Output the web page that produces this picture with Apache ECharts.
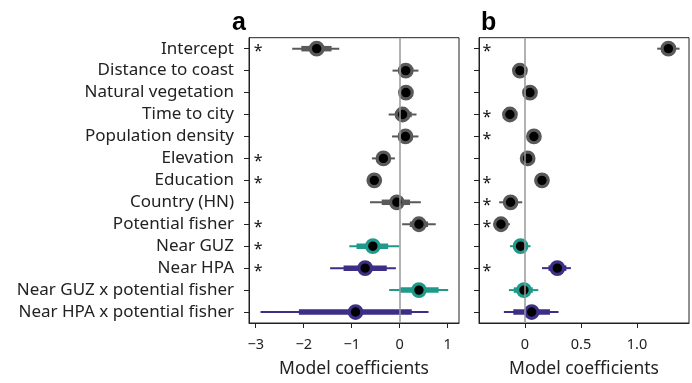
<!DOCTYPE html>
<html><head><meta charset="utf-8">
<script src="https://cdn.jsdelivr.net/npm/echarts@6/dist/echarts.min.js"></script>
<style>html,body{margin:0;padding:0;background:#fff}#c{width:692px;height:383px}</style>
</head><body><div id="c"></div>
<script>
const categories = ["Intercept","Distance to coast","Natural vegetation","Time to city","Population density","Elevation","Education","Country (HN)","Potential fisher","Near GUZ","Near HPA","Near GUZ x potential fisher","Near HPA x potential fisher"];
const groups = ["base","base","base","base","base","base","base","base","base","guz","hpa","guz","hpa"];

const estA  = [-1.73, 0.125, 0.13, 0.06, 0.12, -0.34, -0.53, -0.06, 0.40, -0.56, -0.72, 0.40, -0.92];
const lo95A = [-2.24, -0.15, 0.00, -0.23, -0.16, -0.58, -0.65, -0.62, 0.05, -1.05, -1.45, -0.22, -2.90];
const hi95A = [-1.26, 0.39, 0.27, 0.35, 0.39, -0.10, -0.41, 0.44, 0.75, -0.01, -0.08, 1.01, 0.60];
const lo50A = [-2.05, -0.03, 0.05, -0.10, -0.03, -0.45, -0.58, -0.375, 0.21, -0.90, -1.17, 0.00, -2.10];
const hi50A = [-1.42, 0.28, 0.22, 0.25, 0.27, -0.22, -0.47, 0.215, 0.59, -0.24, -0.27, 0.81, 0.25];
const sigA  = [1,0,0,0,0,1,1,0,1,1,1,0,0];

const estB  = [1.28, -0.045, 0.045, -0.134, 0.08, 0.024, 0.152, -0.128, -0.214, -0.039, 0.289, -0.009, 0.06];
const lo95B = [1.18, -0.10, 0.00, -0.17, 0.03, -0.02, 0.12, -0.23, -0.283, -0.134, 0.152, -0.143, -0.188];
const hi95B = [1.38, 0.01, 0.09, -0.09, 0.12, 0.06, 0.18, -0.024, -0.134, 0.05, 0.41, 0.119, 0.30];
const lo50B = [1.23, -0.07, 0.02, -0.15, 0.05, 0.00, 0.14, -0.18, -0.25, -0.09, 0.21, -0.10, -0.104];
const hi50B = [1.33, -0.02, 0.07, -0.11, 0.10, 0.04, 0.165, -0.07, -0.17, 0.01, 0.37, 0.07, 0.223];
const sigB  = [1,0,0,1,1,0,1,1,1,0,1,0,0];

const ticksA = [-3, -2, -1, 0, 1];
const ticksB = [0, 0.5, 1.0];
const rangeA = [-3.14, 1.235];
const rangeB = [-0.41, 1.464];
const starXA = -2.95;
const starXB = -0.34;
const zeroLine = 0;

const colors = {base: "#595959", guz: "#1f9a8a", hpa: "#3d2f86"};
const FONT = "Noto Sans";

function rows(est, lo95, hi95, lo50, hi50, sig, starX) {
  return est.map((e, i) => [i, e, lo95[i], hi95[i], lo50[i], hi50[i], sig[i], starX]);
}

function renderItem(params, api) {
  const i = api.value(0);
  const col = colors[groups[i]];
  const y = api.coord([0, i])[1];
  const p = api.coord([api.value(1), i]);
  const a95 = api.coord([api.value(2), i])[0], b95 = api.coord([api.value(3), i])[0];
  const a50 = api.coord([api.value(4), i])[0], b50 = api.coord([api.value(5), i])[0];
  const children = [
    {type: "line", shape: {x1: a95, y1: y, x2: b95, y2: y}, style: {stroke: col, lineWidth: 2}},
    {type: "line", shape: {x1: a50, y1: y, x2: b50, y2: y}, style: {stroke: col, lineWidth: 5.5}},
    {type: "circle", shape: {cx: p[0], cy: y, r: 6.3}, style: {fill: "#000", stroke: col, lineWidth: 3.2}}
  ];
  if (api.value(6)) {
    const sx = api.coord([api.value(7), i])[0];
    children.push({type: "text", style: {text: "*", x: sx, y: y + 3, fill: "#111", font: "16px '" + FONT + "'", textAlign: "center", textVerticalAlign: "middle"}});
  }
  return {type: "group", children};
}

function fmtMinus(v) { return v < 0 ? "\u2212" + Math.abs(v) : String(v); }

const chart = echarts.init(document.getElementById("c"), null, {renderer: "canvas"});
const gridCommon = {top: 37.7, bottom: 56.3, show: true, borderColor: "#222", borderWidth: 1, backgroundColor: "transparent"};
const xCommon = {
  type: "value", splitLine: {show: false},
  axisLine: {show: true, onZero: false, lineStyle: {color: "#222", width: 1}},
  name: "Model coefficients", nameLocation: "middle", nameGap: 37,
  nameTextStyle: {fontFamily: FONT, fontSize: 17.5, color: "#222"}
};
const zeroMark = {silent: true, symbol: "none", label: {show: false}, lineStyle: {color: "#999", width: 1.5, type: "solid"}, data: [{xAxis: zeroLine}]};
const yCommon = {type: "category", data: categories, inverse: true,
  axisLine: {show: true, onZero: false, lineStyle: {color: "#222"}},
  axisTick: {show: true, alignWithLabel: true, interval: 0, length: 5, lineStyle: {color: "#222"}}};
chart.setOption({
  animation: false,
  grid: [
    Object.assign({left: 249, right: 233}, gridCommon),
    Object.assign({left: 479, right: 3}, gridCommon)
  ],
  xAxis: [
    Object.assign({}, xCommon, {gridIndex: 0, min: rangeA[0], max: rangeA[1],
      axisTick: {show: true, length: 5, lineStyle: {color: "#222"}, customValues: ticksA},
      axisLabel: {customValues: ticksA, formatter: fmtMinus, fontFamily: FONT, fontSize: 14.5, color: "#222", margin: 14}}),
    Object.assign({}, xCommon, {gridIndex: 1, min: rangeB[0], max: rangeB[1],
      axisTick: {show: true, length: 5, lineStyle: {color: "#222"}, customValues: ticksB},
      axisLabel: {customValues: ticksB, formatter: v => v === 0 ? "0" : v.toFixed(1), fontFamily: FONT, fontSize: 14.5, color: "#222", margin: 14}})
  ],
  yAxis: [
    Object.assign({}, yCommon, {gridIndex: 0,
      axisLabel: {interval: 0, fontFamily: FONT, fontSize: 17, color: "#222", margin: 15}}),
    Object.assign({}, yCommon, {gridIndex: 1, axisLabel: {show: false}})
  ],
  graphic: [
    {type: "text", left: 232, top: 11, style: {text: "a", font: "bold 25px 'Liberation Sans'", fill: "#000"}},
    {type: "text", left: 481, top: 11, style: {text: "b", font: "bold 25px 'Liberation Sans'", fill: "#000"}}
  ],
  series: [
    {type: "scatter", xAxisIndex: 0, yAxisIndex: 0, data: [], z: 1, markLine: zeroMark},
    {type: "scatter", xAxisIndex: 1, yAxisIndex: 1, data: [], z: 1, markLine: zeroMark},
    {type: "custom", xAxisIndex: 0, yAxisIndex: 0, renderItem, clip: false, z: 3,
      data: rows(estA, lo95A, hi95A, lo50A, hi50A, sigA, starXA),
      encode: {x: [1, 2, 3, 4, 5], y: 0}},
    {type: "custom", xAxisIndex: 1, yAxisIndex: 1, renderItem, clip: false, z: 3,
      data: rows(estB, lo95B, hi95B, lo50B, hi50B, sigB, starXB),
      encode: {x: [1, 2, 3, 4, 5], y: 0}}
  ]
});
</script></body></html>
